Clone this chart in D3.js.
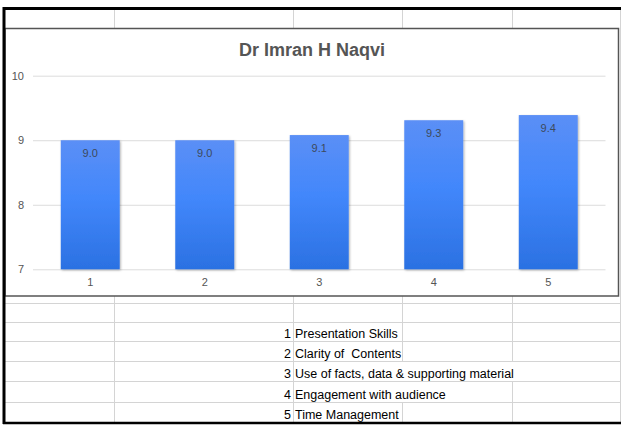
<!DOCTYPE html>
<html>
<head>
<meta charset="utf-8">
<script src="https://cdn.jsdelivr.net/npm/d3@7"></script>
<style>
  body { margin: 0; background: #fff; }
  svg { display: block; }
</style>
</head>
<body>
<div class="chart"></div>
<script>
// chart values
const categories = ["1", "2", "3", "4", "5"];
const scores = [9.0, 9.0, 9.08, 9.31, 9.39];
const yTicks = [7, 8, 9, 10];
const title = "Dr Imran H Naqvi";

// spreadsheet rows under the chart
const legendNumbers = ["1", "2", "3", "4", "5"];
const legendLabels = [
	"Presentation Skills",
	"Clarity of  Contents",
	"Use of facts, data & supporting material",
	"Engagement with audience",
	"Time Management"
];

const W = 621, H = 425;
const font = "Arial, 'Liberation Sans', sans-serif";

const svg = d3.select(".chart")
	.append("svg")
	.attr("width", W)
	.attr("height", H);

const defs = svg.append("defs");
const grad = defs.append("linearGradient")
	.attr("id", "barGrad")
	.attr("x1", 0).attr("y1", 0).attr("x2", 0).attr("y2", 1);
grad.append("stop").attr("offset", "0%").attr("stop-color", "#5b8ff6");
grad.append("stop").attr("offset", "45%").attr("stop-color", "#4287fb");
grad.append("stop").attr("offset", "100%").attr("stop-color", "#2b71e2");

defs.append("filter")
	.attr("id", "shadow")
	.attr("x", "-20%").attr("y", "-20%").attr("width", "140%").attr("height", "140%")
	.append("feDropShadow")
	.attr("dx", 1).attr("dy", 1)
	.attr("stdDeviation", 1.2)
	.attr("flood-color", "#000")
	.attr("flood-opacity", 0.3);

// --- spreadsheet grid ---
const grid = svg.append("g").attr("stroke", "#d4d4d4").attr("stroke-width", 1);
const colX = [114, 293, 402, 512];
const rowY = [303, 322, 341, 361, 381, 402];

// top row cells
colX.forEach((x) => {
	grid.append("line").attr("x1", x + 0.5).attr("x2", x + 0.5).attr("y1", 10).attr("y2", 28);
});

// rows under the chart
rowY.forEach((y) => {
	grid.append("line").attr("x1", 5).attr("x2", 620).attr("y1", y + 0.5).attr("y2", y + 0.5);
});
grid.append("line").attr("x1", 620.5).attr("x2", 620.5).attr("y1", 8).attr("y2", 423);

// legend text
const legend = svg.append("g").style("font", `12.5px ${font}`).attr("fill", "#000");
const labelEnds = legendLabels.map((label, i) => {
	const yb = (i + 2 < rowY.length ? rowY[i + 2] : 422) - 3;
	legend.append("text").attr("x", 291).attr("y", yb).attr("text-anchor", "end").text(legendNumbers[i]);
	const t = legend.append("text")
		.attr("x", 295).attr("y", yb)
		.style("white-space", "pre")
		.attr("xml:space", "preserve")
		.text(label);
	return 295 + t.node().getComputedTextLength();
});

const rowBounds = [[296, 303], [303, 322]].concat(
	legendLabels.map((d, i) => [rowY[i + 1], i + 2 < rowY.length ? rowY[i + 2] : 422])
);
rowBounds.forEach(([y0, y1], r) => {
	colX.forEach((x) => {
		// long labels spill over the empty cells to their right
		if (r >= 2 && x > 293 && x < labelEnds[r - 2]) return;
		grid.append("line").attr("x1", x + 0.5).attr("x2", x + 0.5).attr("y1", y0).attr("y2", y1);
	});
});

// --- chart ---
const plot = { left: 33, right: 605.5, top: 75.7, bottom: 269.3 };

const x = d3.scaleBand()
	.domain(categories)
	.range([plot.left, plot.right])
	.paddingInner(0.485)
	.paddingOuter(0.2425);

const y = d3.scaleLinear()
	.domain([7, 10])
	.range([plot.bottom, plot.top]);

svg.append("rect")
	.attr("x", 5).attr("y", 28.5)
	.attr("width", 613.5).attr("height", 267.5)
	.attr("fill", "#fff")
	.attr("stroke", "#555")
	.attr("stroke-width", 1.5);

svg.append("text")
	.attr("x", 312)
	.attr("y", 56)
	.attr("text-anchor", "middle")
	.attr("fill", "#555")
	.style("font", `bold 18px ${font}`)
	.text(title);

// y axis: gridlines + labels
const yAxis = svg.append("g")
	.attr("transform", `translate(${plot.left},0)`)
	.call(d3.axisLeft(y).tickValues(yTicks).tickSize(-(plot.right - plot.left)).tickPadding(9).tickFormat(d3.format("d")))
	.call((g) => g.select(".domain").remove());
yAxis.selectAll(".tick line").attr("stroke", "#dcdcdc");
yAxis.selectAll(".tick text").attr("fill", "#555").style("font", `11px ${font}`);

// bars
svg.append("g")
	.selectAll("rect")
	.data(scores)
	.join("rect")
	.attr("x", (d, i) => x(categories[i]))
	.attr("y", (d) => y(d))
	.attr("width", x.bandwidth())
	.attr("height", (d) => y(7) - y(d))
	.attr("fill", "url(#barGrad)")
	.attr("filter", "url(#shadow)");

// value labels
svg.append("g")
	.selectAll("text")
	.data(scores)
	.join("text")
	.attr("x", (d, i) => x(categories[i]) + x.bandwidth() / 2)
	.attr("y", (d) => y(d) + 17)
	.attr("text-anchor", "middle")
	.attr("fill", "#3d4a5c")
	.style("font", `11px ${font}`)
	.text((d) => d3.format(".1f")(d));

// x axis labels
const xAxis = svg.append("g")
	.attr("transform", `translate(0,${plot.bottom})`)
	.call(d3.axisBottom(x).tickSize(0).tickPadding(9))
	.call((g) => g.select(".domain").remove());
xAxis.selectAll(".tick text").attr("fill", "#555").style("font", `11px ${font}`);

// --- outer sheet borders ---
const border = svg.append("g").attr("stroke", "#000");
border.append("line").attr("x1", 3).attr("x2", 621).attr("y1", 8.5).attr("y2", 8.5).attr("stroke-width", 3);
border.append("line").attr("x1", 4).attr("x2", 4).attr("y1", 7).attr("y2", 424).attr("stroke-width", 3);
border.append("line").attr("x1", 3).attr("x2", 621).attr("y1", 423).attr("y2", 423).attr("stroke-width", 2.5);
</script>
</body>
</html>
